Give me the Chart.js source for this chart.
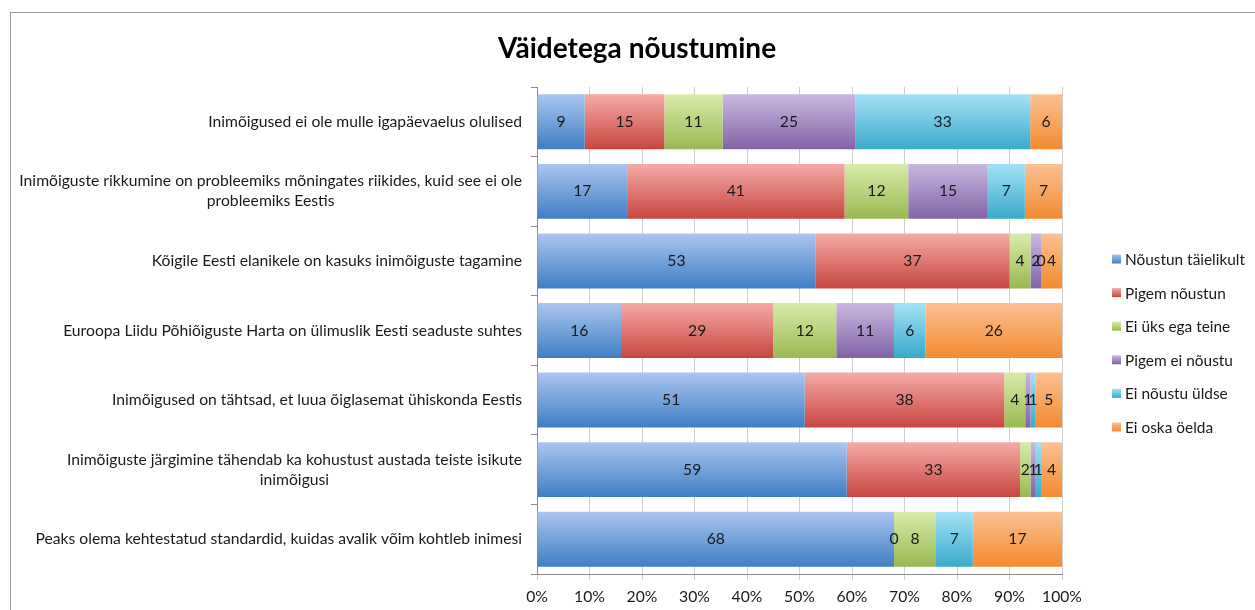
<!DOCTYPE html>
<html>
<head>
<meta charset="utf-8">
<script src="https://cdn.jsdelivr.net/npm/chart.js@4"></script>
<style>
  body { margin: 0; background: #fff; overflow: hidden; width: 1255px; height: 610px; }
  #frame { position: absolute; left: 10px; top: 12px; width: 1300px; height: 700px; border: 1px solid #9a9a9a; }
  #chart { position: absolute; left: 0; top: 0; }
</style>
</head>
<body>
<div id="frame"></div>
<canvas id="chart" width="1255" height="610"></canvas>
<script>
// Väidetega nõustumine - survey answers, stacked to 100%

const categories = [
    "Inimõigused ei ole mulle igapäevaelus olulised",
    ["Inimõiguste rikkumine on probleemiks mõningates riikides, kuid see ei ole", "probleemiks Eestis"],
    "Kõigile Eesti elanikele on kasuks inimõiguste tagamine",
    "Euroopa Liidu Põhiõiguste Harta on ülimuslik Eesti seaduste suhtes",
    "Inimõigused on tähtsad, et luua õiglasemat ühiskonda Eestis",
    ["Inimõiguste järgimine tähendab ka kohustust austada teiste isikute", "inimõigusi"],
    "Peaks olema kehtestatud standardid, kuidas avalik võim kohtleb inimesi"
];

const seriesNames = ["Nõustun täielikult", "Pigem nõustun", "Ei üks ega teine", "Pigem ei nõustu", "Ei nõustu üldse", "Ei oska öelda"];

const fullyAgree      = [9, 17, 53, 16, 51, 59, 68];
const ratherAgree     = [15, 41, 37, 29, 38, 33, 0];
const neither         = [11, 12, 4, 12, 4, 2, 8];
const ratherDisagree  = [25, 15, 2, 11, 1, 1, null];
const totallyDisagree = [33, 7, 0, 6, 1, 1, 7];
const dontKnow        = [6, 7, 4, 26, 5, 4, 17];

const xTicks = [0, 10, 20, 30, 40, 50, 60, 70, 80, 90, 100];

// top (light) and bottom (dark) colour of each series gradient
const colorsTop    = ["#abc6f0", "#f6aaa7", "#d8eba9", "#cab8e0", "#a4e2f6", "#fcc194"];
const colorsBottom = ["#3f7ec4", "#c7463f", "#99b952", "#8263a6", "#38aac9", "#f38a2e"];

const allSeries = [fullyAgree, ratherAgree, neither, ratherDisagree, totallyDisagree, dontKnow];
const rowTotals = categories.map((c, i) => allSeries.reduce((s, arr) => s + (arr[i] || 0), 0));

const FONT = "Lato, 'Open Sans', sans-serif";
const FS = 15.7;
const BAR_PCT = 0.79;

function barGradient(context, idx) {
    const chart = context.chart;
    const yScale = chart.scales.y;
    if (!yScale || context.dataIndex === undefined) return colorsBottom[idx];
    const center = yScale.getPixelForValue(context.dataIndex);
    const half = (yScale.bottom - yScale.top) / categories.length * BAR_PCT / 2;
    if (!isFinite(center) || !isFinite(half) || half <= 0) return colorsBottom[idx];
    const g = chart.ctx.createLinearGradient(0, center - half, 0, center + half);
    g.addColorStop(0, colorsTop[idx]);
    g.addColorStop(1, colorsBottom[idx]);
    return g;
}

const datasets = allSeries.map((arr, idx) => ({
    label: seriesNames[idx],
    raw: arr,
    data: arr.map((v, i) => v === null ? null : v / rowTotals[i] * 100),
    backgroundColor: ctx => barGradient(ctx, idx),
    borderWidth: 0,
    barPercentage: BAR_PCT,
    categoryPercentage: 1
}));

// chart title drawn by hand so it can sit centered on the frame
const titlePlugin = {
    id: "titlePlugin",
    afterDraw(chart) {
        const ctx = chart.ctx;
        ctx.save();
        ctx.font = "bold 28px " + FONT;
        ctx.fillStyle = "#000";
        ctx.textAlign = "center";
        ctx.textBaseline = "middle";
        ctx.fillText("Väidetega nõustumine", 637, 49);
        ctx.restore();
    }
};

// category labels: each line centered inside a right-aligned block
const categoryLabels = {
    id: "categoryLabels",
    afterDraw(chart) {
        const ctx = chart.ctx;
        const yScale = chart.scales.y;
        const right = chart.chartArea.left - 15;
        ctx.save();
        ctx.font = FS + "px " + FONT;
        ctx.fillStyle = "#1a1a1a";
        ctx.textAlign = "center";
        ctx.textBaseline = "middle";
        categories.forEach((label, i) => {
            const lines = Array.isArray(label) ? label : [label];
            const w = Math.max(...lines.map(l => ctx.measureText(l).width));
            const cx = right - w / 2;
            const lineH = 20;
            const y0 = yScale.getPixelForValue(i) - (lines.length - 1) * lineH / 2;
            lines.forEach((l, k) => ctx.fillText(l, cx, y0 + k * lineH));
        });
        ctx.restore();
    }
};

// value labels in the middle of each segment
const valueLabels = {
    id: "valueLabels",
    afterDatasetsDraw(chart) {
        const ctx = chart.ctx;
        ctx.save();
        ctx.font = FS + "px " + FONT;
        ctx.fillStyle = "#1a1a1a";
        ctx.textAlign = "center";
        ctx.textBaseline = "middle";
        chart.data.datasets.forEach((ds, di) => {
            const meta = chart.getDatasetMeta(di);
            meta.data.forEach((bar, i) => {
                const v = ds.raw[i];
                if (v === null) return;
                ctx.fillText(String(v), (bar.x + bar.base) / 2, bar.y);
            });
        });
        ctx.restore();
    }
};

// legend on the right
const sideLegend = {
    id: "sideLegend",
    afterDraw(chart) {
        const ctx = chart.ctx;
        ctx.save();
        ctx.font = "15.4px " + FONT;
        ctx.textBaseline = "middle";
        seriesNames.forEach((name, i) => {
            const y = 259 + i * 33.6;
            const g = ctx.createLinearGradient(0, y - 4.5, 0, y + 4.5);
            g.addColorStop(0, colorsTop[i]);
            g.addColorStop(1, colorsBottom[i]);
            ctx.fillStyle = g;
            ctx.fillRect(1112, y - 4.5, 9, 9);
            ctx.fillStyle = "#1a1a1a";
            ctx.fillText(name, 1125, y + 1);
        });
        ctx.restore();
    }
};

new Chart(document.getElementById("chart"), {
    type: "bar",
    data: {
        labels: categories.map(c => Array.isArray(c) ? c.join(" ") : c),
        datasets: datasets
    },
    options: {
        indexAxis: "y",
        responsive: false,
        animation: false,
        layout: { padding: { top: 87, right: 193, bottom: 0, left: 0 } },
        scales: {
            x: {
                stacked: true,
                min: 0,
                max: 100,
                afterBuildTicks: s => { s.ticks = xTicks.map(v => ({ value: v })); },
                afterFit: s => { s.height = 36; },
                grid: { color: "#cfcfcf", lineWidth: 1, tickLength: 6, drawTicks: true },
                border: { color: "#8a8a8a" },
                ticks: {
                    callback: v => v + "%",
                    font: { family: FONT, size: FS },
                    color: "#1a1a1a",
                    padding: 8
                }
            },
            y: {
                stacked: true,
                afterFit: s => { s.width = 537; },
                grid: { display: true, drawOnChartArea: false, drawTicks: true, tickLength: 6, color: "#8a8a8a", offset: true },
                border: { color: "#8a8a8a" },
                ticks: { display: false }
            }
        },
        plugins: {
            legend: { display: false },
            title: { display: false },
            tooltip: { enabled: false }
        }
    },
    plugins: [valueLabels, categoryLabels, titlePlugin, sideLegend]
});
</script>
</body>
</html>
